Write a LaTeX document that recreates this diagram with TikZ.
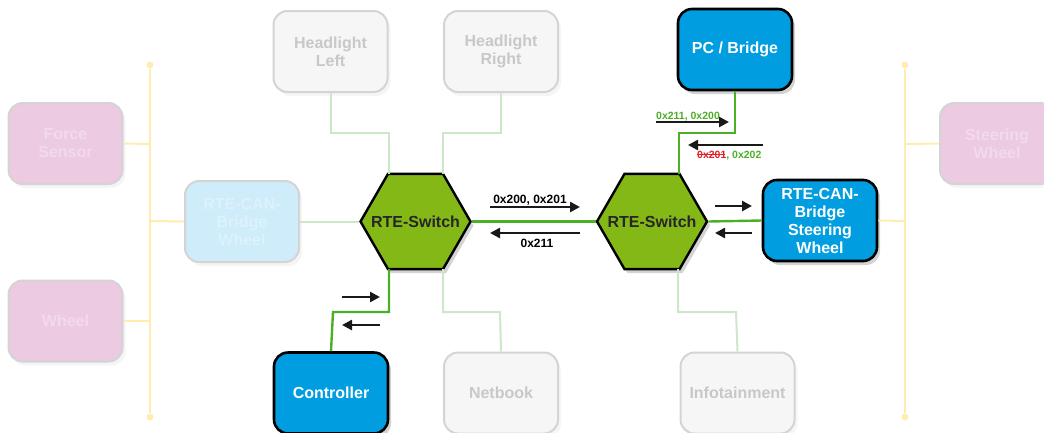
\documentclass[tikz,border=0pt]{standalone}
\usepackage{fontspec}
\setmainfont{Liberation Sans}
\usetikzlibrary{shapes.geometric,arrows.meta,shadows}
\definecolor{blueb}{RGB}{0,158,224}
\definecolor{hexg}{RGB}{132,184,23}
\definecolor{lineg}{RGB}{76,175,40}
\definecolor{fadeg}{RGB}{205,232,200}
\definecolor{fadebox}{RGB}{246,246,246}
\definecolor{fadeborder}{RGB}{212,212,212}
\definecolor{fadetext}{RGB}{200,200,200}
\definecolor{pinkb}{RGB}{236,202,226}
\definecolor{pinktext}{RGB}{242,218,236}
\definecolor{lblue}{RGB}{206,236,249}
\definecolor{lbluetext}{RGB}{220,242,252}
\definecolor{yel}{RGB}{255,236,176}
\definecolor{redx}{RGB}{230,30,40}
\tikzset{
  box/.style={rounded corners=14pt, minimum width=114pt, minimum height=81pt,
    align=center, font=\bfseries\fontsize{16}{18}\selectfont, inner sep=2pt},
  activebox/.style={box, fill=blueb, draw=black, line width=2.6pt, text=white,
    drop shadow={opacity=0.35, shadow xshift=3pt, shadow yshift=-4pt}},
  fadedbox/.style={box, fill=fadebox, draw=fadeborder, line width=2pt, text=fadetext,
    drop shadow={opacity=0.08, shadow xshift=3pt, shadow yshift=-4pt}},
  pinkbox/.style={box, fill=pinkb, draw=fadeborder, line width=2pt, text=pinktext,
    drop shadow={opacity=0.08, shadow xshift=3pt, shadow yshift=-4pt}},
  lbluebox/.style={box, fill=lblue, draw=fadeborder, line width=2pt, text=lbluetext,
    drop shadow={opacity=0.08, shadow xshift=3pt, shadow yshift=-4pt}},
  switchhex/.style={regular polygon, regular polygon sides=6, shape border rotate=0,
    minimum size=110pt, inner sep=0pt, fill=hexg, draw=black, line width=2.4pt,
    label={[font=\bfseries\fontsize{16}{18}\selectfont, text=black!85]center:#1},
    drop shadow={opacity=0.35, shadow xshift=3pt, shadow yshift=-4pt}},
  gline/.style={draw=lineg, line width=2.4pt},
  fline/.style={draw=fadeg, line width=2pt},
  yline/.style={draw=yel, line width=2pt},
  msg/.style={draw=black!90, line width=2.8pt, -{Triangle[length=10pt,width=10pt]}},
  lbl/.style={font=\bfseries\fontsize{12}{13}\selectfont, inner sep=0pt},
  dot/.style={circle, fill=yel, minimum size=7pt, inner sep=0pt}
}
\begin{document}
\begin{tikzpicture}[x=1pt,y=-1pt]
\useasboundingbox (0,0) rectangle (1044,432);
% buses
\node[dot] (lt) at (150,65) {};
\node[dot] (lb) at (150,417) {};
\node[dot] (rt) at (905,65) {};
\node[dot] (rb) at (905,417) {};
\draw[yline] (lt) -- (lb);
\draw[yline] (rt) -- (rb);
% coordinates on buses
\coordinate (l1) at (150,144);
\coordinate (l2) at (150,221);
\coordinate (l3) at (150,320);
\coordinate (r1) at (905,144);
\coordinate (r2) at (905,221);
% switches
\node[switchhex=RTE-Switch] (s1) at (415.5,221.5) {};
\node[switchhex=RTE-Switch] (s2) at (652,221.5) {};
% faint boxes
\node[pinkbox] (fs) at (65.5,143.5) {Force\\Sensor};
\node[pinkbox] (wh) at (65.5,321) {Wheel};
\node[pinkbox] (sw) at (997,143.5) {Steering\\Wheel};
\node[lbluebox] (bw) at (242,221.5) {RTE-CAN-\\Bridge\\Wheel};
\node[fadedbox] (hl) at (330.5,51.5) {Headlight\\Left};
\node[fadedbox] (hr) at (501,51.5) {Headlight\\Right};
\node[fadedbox] (nb) at (501,393) {Netbook};
\node[fadedbox] (inf) at (737.5,393) {Infotainment};
% active boxes
\node[activebox] (pc) at (735,49.5) {PC / Bridge};
\node[activebox] (bsw) at (820,220.5) {RTE-CAN-\\Bridge\\Steering\\Wheel};
\node[activebox] (ctl) at (331,393) {Controller};
% bus connections
\draw[yline] (fs.east) -- (l1);
\draw[yline] (wh.east) -- (wh.east -| l3);
\draw[yline] (bw.west) -- (l2);
\draw[yline] (sw.west) -- (r1);
\draw[yline] (bsw.east) -- (r2);
% faint green connections
\draw[fline] (hl.south) |- (389,133) -- (389,174);
\draw[fline] (hr.south) |- (443,133) -- (443,174);
\draw[fline] (443,269) |- (500,312) -- (nb.north);
\draw[fline] (678,269) |- (736,312) -- (inf.north);
\draw[fline] (s1.west) -- (bw.east);
% active green connections
\draw[gline] (s1.east) -- (s2.west);
\draw[gline] (s2.east) -- (bsw.west);
\draw[gline] (pc.south) |- (679,133) -- (679,174);
\draw[gline] (389,269) |- (333,312) -- (ctl.north);
% message arrows
\coordinate (a1s) at (490,207); \coordinate (a1e) at (580,207);
\draw[msg] (a1s) -- (a1e);
\node[lbl, anchor=base] (t1) at (530,203) {0x200, 0x201};
\coordinate (a2s) at (580,233); \coordinate (a2e) at (490,233);
\draw[msg] (a2s) -- (a2e);
\node[lbl, anchor=base] (t2) at (537,247) {0x211};
\coordinate (a3s) at (656,122); \coordinate (a3e) at (729,122);
\draw[msg] (a3s) -- (a3e);
\node[lbl, anchor=base west, text=lineg, font=\bfseries\fontsize{10.5}{11}\selectfont] (t3) at (656,119) {0x211, 0x200};
\coordinate (a4s) at (763,145); \coordinate (a4e) at (688,145);
\draw[msg] (a4s) -- (a4e);
\node[lbl, anchor=base west, font=\bfseries\fontsize{10.5}{11}\selectfont] (t4) at (697,158)
  {\textcolor{redx}{\rlap{\rule[2.8pt]{28pt}{1pt}}0x201}\textcolor{lineg}{, 0x202}};
\coordinate (a5s) at (715,206); \coordinate (a5e) at (752,206);
\draw[msg] (a5s) -- (a5e);
\coordinate (a6s) at (752,233); \coordinate (a6e) at (715,233);
\draw[msg] (a6s) -- (a6e);
\coordinate (a7s) at (342,297); \coordinate (a7e) at (380,297);
\draw[msg] (a7s) -- (a7e);
\coordinate (a8s) at (380,325); \coordinate (a8e) at (342,325);
\draw[msg] (a8s) -- (a8e);
\end{tikzpicture}
\end{document}
